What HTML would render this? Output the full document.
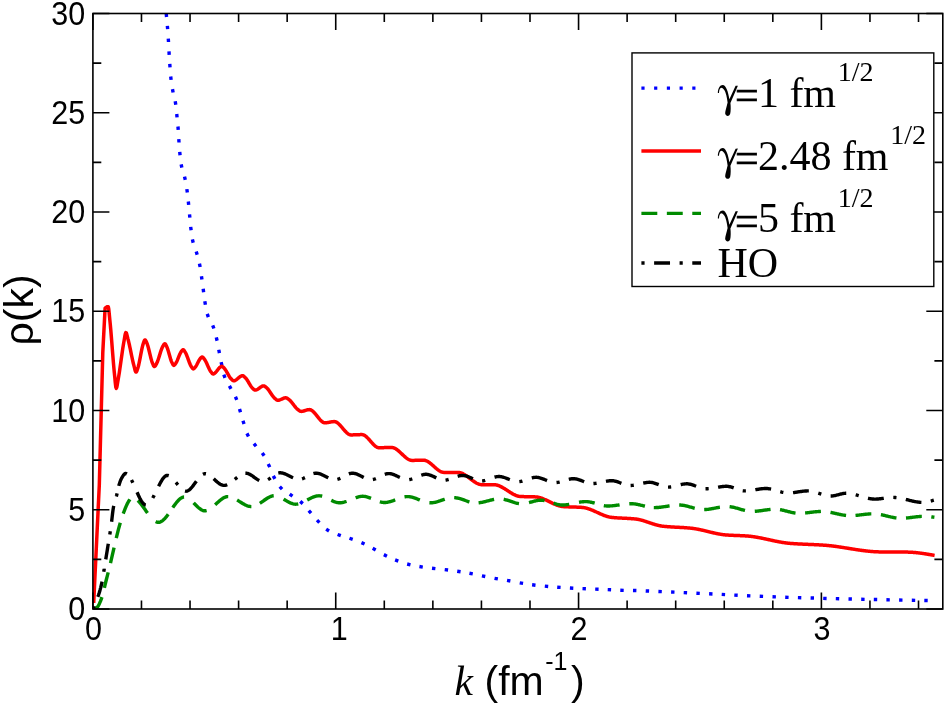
<!DOCTYPE html>
<html><head><meta charset="utf-8"><title>chart</title><style>html,body{margin:0;padding:0;background:#fff}body{width:946px;height:706px;overflow:hidden}#w{will-change:transform;width:946px;height:706px}</style></head><body><div id="w"><svg width="946" height="706" viewBox="0 0 946 706" style="display:block">
<rect x="0" y="0" width="946" height="706" fill="#fff"/>
<defs><clipPath id="cp"><rect x="92.9" y="13.5" width="849.9" height="595.5"/></clipPath>
</defs>
<g clip-path="url(#cp)" fill="none" stroke-linejoin="round">
<path d="M166.25,13.61 L166.55,16.99 M167.36,25.81 L167.64,29.19 M168.29,38.60 L168.51,42.00 M169.00,51.40 L169.20,54.80 M169.78,63.90 L170.02,67.30 M170.71,76.51 L171.09,79.89 M172.49,89.13 L173.11,92.47 M175.22,101.32 L175.78,104.68 M176.73,114.01 L177.07,117.39 M177.96,126.51 L178.24,129.89 M178.78,139.10 L179.02,142.50 M179.73,151.91 L180.07,155.29 M181.16,164.33 L181.84,167.67 M184.53,176.54 L185.27,179.86 M186.86,189.12 L187.34,192.48 M188.33,201.51 L188.67,204.89 M189.54,214.31 L189.86,217.69 M190.69,226.91 L191.11,230.29 M192.41,239.45 L193.19,242.75 M196.23,251.57 L197.17,254.83 M199.46,263.63 L200.14,266.97 M201.46,276.22 L201.94,279.58 M203.17,288.82 L203.63,292.18 M204.81,301.33 L205.39,304.67 M207.25,313.89 L208.35,317.11 M212.70,325.31 L213.90,328.49 M216.31,337.45 L217.09,340.75 M218.78,349.73 L219.42,353.07 M221.14,362.14 L221.86,365.46 M223.81,374.60 L224.99,377.80 M229.40,385.90 L231.00,388.90 M235.44,396.73 L236.76,399.87 M239.50,408.97 L240.50,412.23 M242.99,420.78 L244.01,424.02 M246.93,433.39 L248.47,436.41 M253.94,443.57 L256.06,446.23 M262.25,452.99 L264.15,455.81 M268.27,464.06 L269.73,467.14 M273.30,475.90 L274.90,478.90 M279.73,486.67 L282.07,489.13 M289.71,494.22 L292.49,496.18 M300.23,501.37 L302.77,503.63 M308.77,510.63 L311.03,513.17 M317.01,520.18 L319.39,522.62 M326.18,529.17 L329.02,531.03 M337.61,534.51 L340.79,535.69 M349.49,538.25 L352.71,539.35 M361.45,542.61 L364.55,543.99 M372.70,548.29 L375.70,549.91 M383.88,554.63 L386.92,556.17 M395.11,559.89 L398.29,561.11 M407.15,563.98 L410.45,564.82 M419.42,566.53 L422.78,567.07 M432.01,568.20 L435.39,568.60 M444.71,569.59 L448.09,570.01 M457.22,571.24 L460.58,571.76 M469.43,573.28 L472.77,573.92 M481.93,575.87 L485.27,576.53 M494.53,578.30 L497.87,578.90 M507.03,580.40 L510.37,581.00 M519.72,582.81 L523.08,583.39 M532.11,584.79 L535.49,585.21 M544.81,586.14 L548.19,586.46 M557.20,587.18 L560.60,587.42 M569.90,588.01 L573.30,588.19 M582.50,588.63 L585.90,588.77 M595.20,589.13 L598.60,589.27 M607.70,589.63 L611.10,589.77 M620.30,590.25 L623.70,590.35 M633.00,590.45 L636.40,590.55 M645.70,590.93 L649.10,591.07 M658.40,591.53 L661.80,591.67 M671.10,592.03 L674.50,592.17 M683.70,592.62 L687.10,592.78 M696.40,593.22 L699.80,593.38 M709.10,593.82 L712.50,593.98 M721.70,594.41 L725.10,594.59 M734.30,595.11 L737.70,595.29 M747.00,595.73 L750.40,595.87 M759.70,596.23 L763.10,596.37 M772.50,596.73 L775.90,596.87 M785.20,597.24 L788.60,597.36 M797.90,597.65 L801.30,597.75 M810.60,597.95 L814.00,598.05 M823.20,598.35 L826.60,598.45 M835.80,598.66 L839.20,598.74 M848.50,598.96 L851.90,599.04 M861.20,599.27 L864.60,599.33 M873.80,599.47 L877.20,599.53 M886.40,599.76 L889.80,599.84 M899.10,600.07 L902.50,600.13 M911.80,600.27 L915.20,600.33 M924.30,600.47 L927.70,600.53" stroke="#0000ff" stroke-width="3.4"/>
<path d="M93.70,603.00 L99.30,485.00 L102.80,352.40 L105.10,308.20 L105.30,308.00 L105.80,307.55 L106.30,307.19 L106.80,306.92 L107.30,306.73 L107.80,306.63 L108.30,306.69 L108.80,309.43 L109.30,314.46 L109.80,319.70 L110.30,324.70 L110.80,330.26 L111.30,336.23 L111.80,342.47 L112.30,348.82 L112.80,355.15 L113.30,361.30 L113.80,367.12 L114.30,372.47 L114.80,377.39 L115.30,382.79 L115.80,387.15 L116.30,388.46 L116.80,387.13 L117.30,384.55 L117.80,381.49 L118.30,378.68 L118.80,375.80 L119.30,372.66 L119.80,369.33 L120.30,365.86 L120.80,362.29 L121.30,358.71 L121.80,355.14 L122.30,351.67 L122.80,348.34 L123.30,345.20 L123.80,342.32 L124.30,339.51 L124.80,336.45 L125.30,333.87 L125.80,332.54 L126.30,332.92 L126.80,334.36 L127.30,336.36 L127.80,338.41 L128.30,340.27 L128.80,342.31 L129.30,344.49 L129.80,346.80 L130.30,349.18 L130.80,351.62 L131.30,354.06 L131.80,356.48 L132.30,358.84 L132.80,361.10 L133.30,363.23 L133.80,365.19 L134.30,367.09 L134.80,369.18 L135.30,371.01 L135.80,372.09 L136.30,372.02 L136.80,371.07 L137.30,369.66 L137.80,368.15 L138.30,366.51 L138.80,364.50 L139.30,362.20 L139.80,359.69 L140.30,357.06 L140.80,354.40 L141.30,351.80 L141.80,349.32 L142.30,347.07 L142.80,345.13 L143.30,343.56 L143.80,342.04 L144.30,340.69 L144.80,339.88 L145.30,339.94 L145.80,340.66 L146.30,341.77 L146.80,342.97 L147.30,344.21 L147.80,345.75 L148.30,347.52 L148.80,349.46 L149.30,351.52 L149.80,353.62 L150.30,355.71 L150.80,357.73 L151.30,359.61 L151.80,361.30 L152.30,362.72 L152.80,363.91 L153.30,365.10 L153.80,366.09 L154.30,366.58 L154.80,366.43 L155.30,365.84 L155.80,364.99 L156.30,364.06 L156.80,363.13 L157.30,362.01 L157.80,360.71 L158.30,359.27 L158.80,357.73 L159.30,356.13 L159.80,354.50 L160.30,352.89 L160.80,351.33 L161.30,349.86 L161.80,348.53 L162.30,347.37 L162.80,346.42 L163.30,345.49 L163.80,344.61 L164.30,343.96 L164.80,343.70 L165.30,344.02 L165.80,344.81 L166.30,345.82 L166.80,346.82 L167.30,348.02 L167.80,349.45 L168.30,351.06 L168.80,352.77 L169.30,354.55 L169.80,356.33 L170.30,358.04 L170.80,359.65 L171.30,361.08 L171.80,362.28 L172.30,363.28 L172.80,364.29 L173.30,365.08 L173.80,365.40 L174.30,365.18 L174.80,364.64 L175.30,363.94 L175.80,363.24 L176.30,362.43 L176.80,361.45 L177.30,360.35 L177.80,359.16 L178.30,357.92 L178.80,356.68 L179.30,355.46 L179.80,354.30 L180.30,353.24 L180.80,352.33 L181.30,351.58 L181.80,350.87 L182.30,350.22 L182.80,349.78 L183.30,349.74 L183.80,350.12 L184.30,350.78 L184.80,351.57 L185.30,352.35 L185.80,353.25 L186.30,354.32 L186.80,355.53 L187.30,356.83 L187.80,358.19 L188.30,359.58 L188.80,360.96 L189.30,362.30 L189.80,363.57 L190.30,364.72 L190.80,365.73 L191.30,366.56 L191.80,367.35 L192.30,368.11 L192.80,368.68 L193.30,368.90 L193.80,368.72 L194.30,368.27 L194.80,367.70 L195.30,367.14 L195.80,366.45 L196.30,365.63 L196.80,364.72 L197.30,363.75 L197.80,362.75 L198.30,361.76 L198.80,360.81 L199.30,359.93 L199.80,359.16 L200.30,358.53 L200.80,357.97 L201.30,357.43 L201.80,357.07 L202.30,357.03 L202.80,357.32 L203.30,357.83 L203.80,358.46 L204.30,359.10 L204.80,359.78 L205.30,360.59 L205.80,361.51 L206.30,362.52 L206.80,363.59 L207.30,364.71 L207.80,365.84 L208.30,366.96 L208.80,368.06 L209.30,369.10 L209.80,370.06 L210.30,370.92 L210.80,371.65 L211.30,372.28 L211.80,372.92 L212.30,373.50 L212.80,373.89 L213.30,373.99 L213.80,373.82 L214.30,373.49 L214.80,373.11 L215.30,372.71 L215.80,372.22 L216.30,371.64 L216.80,371.01 L217.30,370.35 L217.80,369.68 L218.30,369.03 L218.80,368.42 L219.30,367.87 L219.80,367.42 L220.30,367.04 L220.80,366.66 L221.30,366.38 L221.80,366.31 L222.30,366.48 L222.80,366.84 L223.30,367.32 L223.80,367.83 L224.30,368.34 L224.80,368.92 L225.30,369.60 L225.80,370.35 L226.30,371.17 L226.80,372.03 L227.30,372.92 L227.80,373.82 L228.30,374.72 L228.80,375.59 L229.30,376.43 L229.80,377.21 L230.30,377.92 L230.80,378.54 L231.30,379.07 L231.80,379.58 L232.30,380.08 L232.80,380.50 L233.30,380.75 L233.80,380.79 L234.30,380.71 L234.80,380.55 L235.30,380.32 L235.80,380.03 L236.30,379.70 L236.80,379.32 L237.30,378.92 L237.80,378.50 L238.30,378.08 L238.80,377.66 L239.30,377.25 L239.80,376.87 L240.30,376.53 L240.80,376.23 L241.30,375.99 L241.80,375.81 L242.30,375.72 L242.80,375.72 L243.30,375.91 L243.80,376.27 L244.30,376.72 L244.80,377.20 L245.30,377.67 L245.80,378.20 L246.30,378.83 L246.80,379.52 L247.30,380.27 L247.80,381.06 L248.30,381.89 L248.80,382.73 L249.30,383.58 L249.80,384.41 L250.30,385.22 L250.80,385.99 L251.30,386.71 L251.80,387.36 L252.30,387.93 L252.80,388.41 L253.30,388.89 L253.80,389.36 L254.30,389.76 L254.80,390.03 L255.30,390.10 L255.80,390.04 L256.30,389.91 L256.80,389.71 L257.30,389.46 L257.80,389.16 L258.30,388.83 L258.80,388.48 L259.30,388.11 L259.80,387.74 L260.30,387.38 L260.80,387.03 L261.30,386.72 L261.80,386.44 L262.30,386.20 L262.80,386.03 L263.30,385.93 L263.80,385.90 L264.30,386.03 L264.80,386.30 L265.30,386.66 L265.80,387.09 L266.30,387.52 L266.80,387.94 L267.30,388.42 L267.80,388.98 L268.30,389.59 L268.80,390.25 L269.30,390.95 L269.80,391.68 L270.30,392.42 L270.80,393.18 L271.30,393.93 L271.80,394.67 L272.30,395.39 L272.80,396.09 L273.30,396.74 L273.80,397.34 L274.30,397.88 L274.80,398.35 L275.30,398.77 L275.80,399.20 L276.30,399.62 L276.80,399.97 L277.30,400.21 L277.80,400.30 L278.30,400.27 L278.80,400.19 L279.30,400.07 L279.80,399.91 L280.30,399.72 L280.80,399.51 L281.30,399.28 L281.80,399.05 L282.30,398.82 L282.80,398.59 L283.30,398.38 L283.80,398.19 L284.30,398.03 L284.80,397.91 L285.30,397.83 L285.80,397.80 L286.30,397.87 L286.80,398.07 L287.30,398.36 L287.80,398.71 L288.30,399.09 L288.80,399.46 L289.30,399.83 L289.80,400.27 L290.30,400.76 L290.80,401.29 L291.30,401.87 L291.80,402.47 L292.30,403.10 L292.80,403.75 L293.30,404.40 L293.80,405.06 L294.30,405.71 L294.80,406.35 L295.30,406.97 L295.80,407.57 L296.30,408.13 L296.80,408.64 L297.30,409.11 L297.80,409.52 L298.30,409.89 L298.80,410.26 L299.30,410.63 L299.80,410.96 L300.30,411.22 L300.80,411.37 L301.30,411.40 L301.80,411.36 L302.30,411.30 L302.80,411.20 L303.30,411.09 L303.80,410.95 L304.30,410.80 L304.80,410.65 L305.30,410.48 L305.80,410.32 L306.30,410.17 L306.80,410.02 L307.30,409.89 L307.80,409.77 L308.30,409.69 L308.80,409.63 L309.30,409.60 L309.80,409.63 L310.30,409.73 L310.80,409.90 L311.30,410.14 L311.80,410.44 L312.30,410.80 L312.80,411.21 L313.30,411.66 L313.80,412.16 L314.30,412.69 L314.80,413.25 L315.30,413.84 L315.80,414.44 L316.30,415.06 L316.80,415.69 L317.30,416.33 L317.80,416.96 L318.30,417.59 L318.80,418.20 L319.30,418.80 L319.80,419.38 L320.30,419.93 L320.80,420.44 L321.30,420.92 L321.80,421.36 L322.30,421.75 L322.80,422.09 L323.30,422.36 L323.80,422.58 L324.30,422.72 L324.80,422.79 L325.30,422.80 L325.80,422.77 L326.30,422.74 L326.80,422.68 L327.30,422.62 L327.80,422.54 L328.30,422.45 L328.80,422.36 L329.30,422.27 L329.80,422.17 L330.30,422.08 L330.80,421.98 L331.30,421.89 L331.80,421.81 L332.30,421.74 L332.80,421.68 L333.30,421.64 L333.80,421.61 L334.30,421.60 L334.80,421.64 L335.30,421.74 L335.80,421.90 L336.30,422.13 L336.80,422.40 L337.30,422.73 L337.80,423.11 L338.30,423.52 L338.80,423.98 L339.30,424.46 L339.80,424.98 L340.30,425.52 L340.80,426.08 L341.30,426.65 L341.80,427.24 L342.30,427.83 L342.80,428.43 L343.30,429.02 L343.80,429.62 L344.30,430.20 L344.80,430.76 L345.30,431.31 L345.80,431.83 L346.30,432.33 L346.80,432.80 L347.30,433.23 L347.80,433.62 L348.30,433.97 L348.80,434.27 L349.30,434.51 L349.80,434.70 L350.30,434.83 L350.80,434.89 L351.30,434.90 L351.80,434.90 L352.30,434.89 L352.80,434.88 L353.30,434.87 L353.80,434.85 L354.30,434.84 L354.80,434.82 L355.30,434.80 L355.80,434.78 L356.30,434.76 L356.80,434.74 L357.30,434.72 L357.80,434.70 L358.30,434.68 L358.80,434.66 L359.30,434.65 L359.80,434.63 L360.30,434.62 L360.80,434.61 L361.30,434.60 L361.80,434.60 L362.30,434.61 L362.80,434.68 L363.30,434.82 L363.80,435.01 L364.30,435.25 L364.80,435.55 L365.30,435.89 L365.80,436.27 L366.30,436.69 L366.80,437.14 L367.30,437.63 L367.80,438.13 L368.30,438.66 L368.80,439.21 L369.30,439.77 L369.80,440.34 L370.30,440.92 L370.80,441.50 L371.30,442.07 L371.80,442.64 L372.30,443.20 L372.80,443.74 L373.30,444.27 L373.80,444.77 L374.30,445.25 L374.80,445.70 L375.30,446.11 L375.80,446.48 L376.30,446.81 L376.80,447.10 L377.30,447.33 L377.80,447.51 L378.30,447.64 L378.80,447.69 L379.30,447.70 L379.80,447.70 L380.30,447.69 L380.80,447.69 L381.30,447.68 L381.80,447.68 L382.30,447.67 L382.80,447.66 L383.30,447.65 L383.80,447.64 L384.30,447.62 L384.80,447.61 L385.30,447.60 L385.80,447.59 L386.30,447.58 L386.80,447.57 L387.30,447.56 L387.80,447.54 L388.30,447.54 L388.80,447.53 L389.30,447.52 L389.80,447.51 L390.30,447.51 L390.80,447.50 L391.30,447.50 L391.80,447.50 L392.30,447.53 L392.80,447.61 L393.30,447.73 L393.80,447.89 L394.30,448.08 L394.80,448.31 L395.30,448.57 L395.80,448.87 L396.30,449.19 L396.80,449.53 L397.30,449.90 L397.80,450.29 L398.30,450.70 L398.80,451.13 L399.30,451.57 L399.80,452.02 L400.30,452.48 L400.80,452.95 L401.30,453.43 L401.80,453.90 L402.30,454.38 L402.80,454.85 L403.30,455.32 L403.80,455.79 L404.30,456.24 L404.80,456.68 L405.30,457.11 L405.80,457.53 L406.30,457.92 L406.80,458.29 L407.30,458.65 L407.80,458.97 L408.30,459.27 L408.80,459.54 L409.30,459.78 L409.80,459.98 L410.30,460.14 L410.80,460.27 L411.30,460.36 L411.80,460.40 L412.30,460.40 L412.80,460.40 L413.30,460.39 L413.80,460.39 L414.30,460.38 L414.80,460.37 L415.30,460.36 L415.80,460.35 L416.30,460.34 L416.80,460.33 L417.30,460.31 L417.80,460.30 L418.30,460.29 L418.80,460.27 L419.30,460.26 L419.80,460.25 L420.30,460.24 L420.80,460.23 L421.30,460.22 L421.80,460.21 L422.30,460.21 L422.80,460.20 L423.30,460.20 L423.80,460.20 L424.30,460.24 L424.80,460.32 L425.30,460.44 L425.80,460.60 L426.30,460.78 L426.80,461.01 L427.30,461.26 L427.80,461.54 L428.30,461.84 L428.80,462.17 L429.30,462.53 L429.80,462.90 L430.30,463.28 L430.80,463.69 L431.30,464.10 L431.80,464.53 L432.30,464.96 L432.80,465.41 L433.30,465.85 L433.80,466.30 L434.30,466.75 L434.80,467.19 L435.30,467.64 L435.80,468.07 L436.30,468.50 L436.80,468.91 L437.30,469.32 L437.80,469.70 L438.30,470.07 L438.80,470.43 L439.30,470.76 L439.80,471.06 L440.30,471.34 L440.80,471.59 L441.30,471.82 L441.80,472.00 L442.30,472.16 L442.80,472.28 L443.30,472.36 L443.80,472.40 L444.30,472.40 L444.80,472.40 L445.30,472.40 L445.80,472.40 L446.30,472.40 L446.80,472.40 L447.30,472.40 L447.80,472.40 L448.30,472.40 L448.80,472.40 L449.30,472.40 L449.80,472.40 L450.30,472.40 L450.80,472.40 L451.30,472.40 L451.80,472.40 L452.30,472.40 L452.80,472.40 L453.30,472.40 L453.80,472.40 L454.30,472.40 L454.80,472.40 L455.30,472.40 L455.80,472.40 L456.30,472.40 L456.80,472.40 L457.30,472.40 L457.80,472.40 L458.30,472.41 L458.80,472.44 L459.30,472.50 L459.80,472.60 L460.30,472.72 L460.80,472.86 L461.30,473.03 L461.80,473.23 L462.30,473.44 L462.80,473.68 L463.30,473.93 L463.80,474.21 L464.30,474.50 L464.80,474.80 L465.30,475.12 L465.80,475.45 L466.30,475.80 L466.80,476.15 L467.30,476.51 L467.80,476.88 L468.30,477.25 L468.80,477.63 L469.30,478.01 L469.80,478.40 L470.30,478.78 L470.80,479.16 L471.30,479.55 L471.80,479.92 L472.30,480.30 L472.80,480.66 L473.30,481.02 L473.80,481.37 L474.30,481.71 L474.80,482.04 L475.30,482.36 L475.80,482.66 L476.30,482.95 L476.80,483.22 L477.30,483.47 L477.80,483.70 L478.30,483.91 L478.80,484.10 L479.30,484.27 L479.80,484.41 L480.30,484.52 L480.80,484.61 L481.30,484.67 L481.80,484.70 L482.30,484.70 L482.80,484.70 L483.30,484.70 L483.80,484.70 L484.30,484.70 L484.80,484.70 L485.30,484.70 L485.80,484.70 L486.30,484.70 L486.80,484.70 L487.30,484.70 L487.80,484.70 L488.30,484.70 L488.80,484.70 L489.30,484.70 L489.80,484.70 L490.30,484.70 L490.80,484.70 L491.30,484.70 L491.80,484.70 L492.30,484.70 L492.80,484.70 L493.30,484.70 L493.80,484.70 L494.30,484.70 L494.80,484.73 L495.30,484.78 L495.80,484.85 L496.30,484.94 L496.80,485.06 L497.30,485.19 L497.80,485.34 L498.30,485.50 L498.80,485.69 L499.30,485.89 L499.80,486.10 L500.30,486.33 L500.80,486.57 L501.30,486.83 L501.80,487.09 L502.30,487.36 L502.80,487.65 L503.30,487.94 L503.80,488.24 L504.30,488.55 L504.80,488.86 L505.30,489.18 L505.80,489.50 L506.30,489.82 L506.80,490.15 L507.30,490.48 L507.80,490.81 L508.30,491.13 L508.80,491.46 L509.30,491.78 L509.80,492.11 L510.30,492.42 L510.80,492.73 L511.30,493.04 L511.80,493.34 L512.30,493.63 L512.80,493.91 L513.30,494.18 L513.80,494.44 L514.30,494.70 L514.80,494.93 L515.30,495.16 L515.80,495.37 L516.30,495.57 L516.80,495.75 L517.30,495.91 L517.80,496.06 L518.30,496.18 L518.80,496.29 L519.30,496.38 L519.80,496.44 L520.30,496.49 L520.80,496.51 L521.30,496.53 L521.80,496.55 L522.30,496.57 L522.80,496.59 L523.30,496.60 L523.80,496.62 L524.30,496.63 L524.80,496.64 L525.30,496.65 L525.80,496.66 L526.30,496.67 L526.80,496.68 L527.30,496.69 L527.80,496.70 L528.30,496.71 L528.80,496.72 L529.30,496.72 L529.80,496.73 L530.30,496.74 L530.80,496.75 L531.30,496.76 L531.80,496.78 L532.30,496.79 L532.80,496.80 L533.30,496.82 L533.80,496.83 L534.30,496.85 L534.80,496.87 L535.30,496.89 L535.80,496.92 L536.30,496.96 L536.80,497.01 L537.30,497.08 L537.80,497.17 L538.30,497.26 L538.80,497.37 L539.30,497.49 L539.80,497.63 L540.30,497.77 L540.80,497.93 L541.30,498.09 L541.80,498.27 L542.30,498.45 L542.80,498.64 L543.30,498.84 L543.80,499.05 L544.30,499.26 L544.80,499.48 L545.30,499.71 L545.80,499.94 L546.30,500.17 L546.80,500.41 L547.30,500.65 L547.80,500.89 L548.30,501.14 L548.80,501.39 L549.30,501.63 L549.80,501.88 L550.30,502.13 L550.80,502.38 L551.30,502.62 L551.80,502.86 L552.30,503.11 L552.80,503.34 L553.30,503.58 L553.80,503.81 L554.30,504.03 L554.80,504.25 L555.30,504.46 L555.80,504.67 L556.30,504.87 L556.80,505.06 L557.30,505.25 L557.80,505.42 L558.30,505.59 L558.80,505.75 L559.30,505.89 L559.80,506.03 L560.30,506.15 L560.80,506.26 L561.30,506.36 L561.80,506.44 L562.30,506.51 L562.80,506.57 L563.30,506.61 L563.80,506.64 L564.30,506.67 L564.80,506.70 L565.30,506.73 L565.80,506.76 L566.30,506.78 L566.80,506.81 L567.30,506.83 L567.80,506.85 L568.30,506.87 L568.80,506.89 L569.30,506.90 L569.80,506.92 L570.30,506.94 L570.80,506.95 L571.30,506.97 L571.80,506.98 L572.30,506.99 L572.80,507.01 L573.30,507.02 L573.80,507.04 L574.30,507.05 L574.80,507.07 L575.30,507.08 L575.80,507.10 L576.30,507.11 L576.80,507.13 L577.30,507.15 L577.80,507.17 L578.30,507.19 L578.80,507.21 L579.30,507.24 L579.80,507.26 L580.30,507.29 L580.80,507.32 L581.30,507.35 L581.80,507.39 L582.30,507.42 L582.80,507.47 L583.30,507.53 L583.80,507.61 L584.30,507.69 L584.80,507.79 L585.30,507.89 L585.80,508.01 L586.30,508.13 L586.80,508.27 L587.30,508.41 L587.80,508.56 L588.30,508.72 L588.80,508.89 L589.30,509.06 L589.80,509.24 L590.30,509.43 L590.80,509.62 L591.30,509.82 L591.80,510.02 L592.30,510.23 L592.80,510.44 L593.30,510.66 L593.80,510.88 L594.30,511.10 L594.80,511.32 L595.30,511.55 L595.80,511.78 L596.30,512.01 L596.80,512.24 L597.30,512.47 L597.80,512.70 L598.30,512.93 L598.80,513.15 L599.30,513.38 L599.80,513.61 L600.30,513.83 L600.80,514.05 L601.30,514.27 L601.80,514.48 L602.30,514.69 L602.80,514.90 L603.30,515.10 L603.80,515.30 L604.30,515.49 L604.80,515.67 L605.30,515.85 L605.80,516.03 L606.30,516.19 L606.80,516.35 L607.30,516.50 L607.80,516.64 L608.30,516.77 L608.80,516.89 L609.30,517.01 L609.80,517.11 L610.30,517.20 L610.80,517.28 L611.30,517.35 L611.80,517.41 L612.30,517.46 L612.80,517.51 L613.30,517.56 L613.80,517.61 L614.30,517.65 L614.80,517.69 L615.30,517.73 L615.80,517.77 L616.30,517.81 L616.80,517.84 L617.30,517.88 L617.80,517.91 L618.30,517.94 L618.80,517.97 L619.30,518.00 L619.80,518.02 L620.30,518.05 L620.80,518.08 L621.30,518.10 L621.80,518.12 L622.30,518.15 L622.80,518.17 L623.30,518.20 L623.80,518.22 L624.30,518.24 L624.80,518.27 L625.30,518.29 L625.80,518.32 L626.30,518.34 L626.80,518.37 L627.30,518.39 L627.80,518.42 L628.30,518.44 L628.80,518.47 L629.30,518.50 L629.80,518.53 L630.30,518.57 L630.80,518.60 L631.30,518.63 L631.80,518.67 L632.30,518.71 L632.80,518.75 L633.30,518.79 L633.80,518.83 L634.30,518.88 L634.80,518.93 L635.30,518.98 L635.80,519.03 L636.30,519.10 L636.80,519.17 L637.30,519.24 L637.80,519.33 L638.30,519.42 L638.80,519.52 L639.30,519.63 L639.80,519.74 L640.30,519.86 L640.80,519.98 L641.30,520.11 L641.80,520.25 L642.30,520.39 L642.80,520.53 L643.30,520.68 L643.80,520.83 L644.30,520.98 L644.80,521.14 L645.30,521.30 L645.80,521.46 L646.30,521.63 L646.80,521.80 L647.30,521.97 L647.80,522.13 L648.30,522.31 L648.80,522.48 L649.30,522.65 L649.80,522.82 L650.30,522.99 L650.80,523.16 L651.30,523.33 L651.80,523.50 L652.30,523.66 L652.80,523.83 L653.30,523.99 L653.80,524.15 L654.30,524.30 L654.80,524.46 L655.30,524.61 L655.80,524.75 L656.30,524.89 L656.80,525.03 L657.30,525.16 L657.80,525.29 L658.30,525.41 L658.80,525.53 L659.30,525.64 L659.80,525.74 L660.30,525.84 L660.80,525.93 L661.30,526.01 L661.80,526.09 L662.30,526.15 L662.80,526.21 L663.30,526.27 L663.80,526.32 L664.30,526.37 L664.80,526.42 L665.30,526.47 L665.80,526.51 L666.30,526.56 L666.80,526.60 L667.30,526.64 L667.80,526.68 L668.30,526.72 L668.80,526.75 L669.30,526.79 L669.80,526.83 L670.30,526.86 L670.80,526.89 L671.30,526.92 L671.80,526.95 L672.30,526.99 L672.80,527.01 L673.30,527.04 L673.80,527.07 L674.30,527.10 L674.80,527.13 L675.30,527.15 L675.80,527.18 L676.30,527.21 L676.80,527.23 L677.30,527.26 L677.80,527.29 L678.30,527.31 L678.80,527.34 L679.30,527.37 L679.80,527.39 L680.30,527.42 L680.80,527.45 L681.30,527.48 L681.80,527.50 L682.30,527.53 L682.80,527.56 L683.30,527.59 L683.80,527.62 L684.30,527.66 L684.80,527.69 L685.30,527.72 L685.80,527.76 L686.30,527.79 L686.80,527.83 L687.30,527.87 L687.80,527.91 L688.30,527.95 L688.80,527.99 L689.30,528.04 L689.80,528.08 L690.30,528.13 L690.80,528.18 L691.30,528.23 L691.80,528.29 L692.30,528.35 L692.80,528.41 L693.30,528.48 L693.80,528.55 L694.30,528.62 L694.80,528.70 L695.30,528.78 L695.80,528.86 L696.30,528.95 L696.80,529.04 L697.30,529.13 L697.80,529.23 L698.30,529.32 L698.80,529.42 L699.30,529.53 L699.80,529.63 L700.30,529.74 L700.80,529.85 L701.30,529.96 L701.80,530.07 L702.30,530.18 L702.80,530.29 L703.30,530.41 L703.80,530.53 L704.30,530.65 L704.80,530.76 L705.30,530.88 L705.80,531.01 L706.30,531.13 L706.80,531.25 L707.30,531.37 L707.80,531.49 L708.30,531.61 L708.80,531.73 L709.30,531.86 L709.80,531.98 L710.30,532.10 L710.80,532.22 L711.30,532.34 L711.80,532.46 L712.30,532.57 L712.80,532.69 L713.30,532.81 L713.80,532.92 L714.30,533.03 L714.80,533.15 L715.30,533.25 L715.80,533.36 L716.30,533.47 L716.80,533.57 L717.30,533.67 L717.80,533.77 L718.30,533.87 L718.80,533.96 L719.30,534.05 L719.80,534.14 L720.30,534.23 L720.80,534.31 L721.30,534.39 L721.80,534.47 L722.30,534.54 L722.80,534.61 L723.30,534.68 L723.80,534.74 L724.30,534.79 L724.80,534.85 L725.30,534.90 L725.80,534.94 L726.30,534.98 L726.80,535.02 L727.30,535.06 L727.80,535.09 L728.30,535.12 L728.80,535.15 L729.30,535.18 L729.80,535.21 L730.30,535.24 L730.80,535.26 L731.30,535.29 L731.80,535.31 L732.30,535.33 L732.80,535.35 L733.30,535.37 L733.80,535.39 L734.30,535.41 L734.80,535.43 L735.30,535.45 L735.80,535.47 L736.30,535.49 L736.80,535.51 L737.30,535.53 L737.80,535.55 L738.30,535.56 L738.80,535.58 L739.30,535.60 L739.80,535.62 L740.30,535.64 L740.80,535.66 L741.30,535.68 L741.80,535.71 L742.30,535.73 L742.80,535.75 L743.30,535.78 L743.80,535.80 L744.30,535.83 L744.80,535.86 L745.30,535.89 L745.80,535.92 L746.30,535.95 L746.80,535.99 L747.30,536.02 L747.80,536.06 L748.30,536.10 L748.80,536.15 L749.30,536.20 L749.80,536.25 L750.30,536.30 L750.80,536.36 L751.30,536.42 L751.80,536.49 L752.30,536.55 L752.80,536.62 L753.30,536.69 L753.80,536.76 L754.30,536.84 L754.80,536.92 L755.30,537.00 L755.80,537.08 L756.30,537.16 L756.80,537.25 L757.30,537.34 L757.80,537.42 L758.30,537.52 L758.80,537.61 L759.30,537.70 L759.80,537.80 L760.30,537.90 L760.80,537.99 L761.30,538.09 L761.80,538.20 L762.30,538.30 L762.80,538.40 L763.30,538.50 L763.80,538.61 L764.30,538.72 L764.80,538.82 L765.30,538.93 L765.80,539.04 L766.30,539.14 L766.80,539.25 L767.30,539.36 L767.80,539.47 L768.30,539.58 L768.80,539.69 L769.30,539.80 L769.80,539.91 L770.30,540.02 L770.80,540.13 L771.30,540.24 L771.80,540.34 L772.30,540.45 L772.80,540.56 L773.30,540.67 L773.80,540.77 L774.30,540.88 L774.80,540.98 L775.30,541.09 L775.80,541.19 L776.30,541.29 L776.80,541.39 L777.30,541.49 L777.80,541.59 L778.30,541.68 L778.80,541.78 L779.30,541.87 L779.80,541.97 L780.30,542.06 L780.80,542.15 L781.30,542.23 L781.80,542.32 L782.30,542.40 L782.80,542.48 L783.30,542.56 L783.80,542.64 L784.30,542.71 L784.80,542.78 L785.30,542.85 L785.80,542.92 L786.30,542.99 L786.80,543.05 L787.30,543.11 L787.80,543.16 L788.30,543.22 L788.80,543.27 L789.30,543.31 L789.80,543.36 L790.30,543.40 L790.80,543.44 L791.30,543.48 L791.80,543.51 L792.30,543.55 L792.80,543.59 L793.30,543.62 L793.80,543.65 L794.30,543.69 L794.80,543.72 L795.30,543.75 L795.80,543.78 L796.30,543.81 L796.80,543.84 L797.30,543.87 L797.80,543.89 L798.30,543.92 L798.80,543.95 L799.30,543.97 L799.80,544.00 L800.30,544.02 L800.80,544.05 L801.30,544.07 L801.80,544.09 L802.30,544.12 L802.80,544.14 L803.30,544.16 L803.80,544.18 L804.30,544.21 L804.80,544.23 L805.30,544.25 L805.80,544.27 L806.30,544.29 L806.80,544.31 L807.30,544.33 L807.80,544.35 L808.30,544.38 L808.80,544.40 L809.30,544.42 L809.80,544.44 L810.30,544.46 L810.80,544.48 L811.30,544.50 L811.80,544.52 L812.30,544.54 L812.80,544.57 L813.30,544.59 L813.80,544.61 L814.30,544.63 L814.80,544.66 L815.30,544.68 L815.80,544.70 L816.30,544.73 L816.80,544.75 L817.30,544.78 L817.80,544.80 L818.30,544.83 L818.80,544.86 L819.30,544.89 L819.80,544.91 L820.30,544.94 L820.80,544.97 L821.30,545.00 L821.80,545.03 L822.30,545.06 L822.80,545.10 L823.30,545.13 L823.80,545.16 L824.30,545.20 L824.80,545.24 L825.30,545.27 L825.80,545.32 L826.30,545.36 L826.80,545.40 L827.30,545.45 L827.80,545.49 L828.30,545.54 L828.80,545.59 L829.30,545.64 L829.80,545.70 L830.30,545.75 L830.80,545.81 L831.30,545.86 L831.80,545.92 L832.30,545.98 L832.80,546.04 L833.30,546.10 L833.80,546.17 L834.30,546.23 L834.80,546.30 L835.30,546.36 L835.80,546.43 L836.30,546.50 L836.80,546.57 L837.30,546.64 L837.80,546.71 L838.30,546.78 L838.80,546.86 L839.30,546.93 L839.80,547.00 L840.30,547.08 L840.80,547.15 L841.30,547.23 L841.80,547.31 L842.30,547.38 L842.80,547.46 L843.30,547.54 L843.80,547.62 L844.30,547.70 L844.80,547.78 L845.30,547.86 L845.80,547.94 L846.30,548.02 L846.80,548.10 L847.30,548.18 L847.80,548.26 L848.30,548.34 L848.80,548.42 L849.30,548.50 L849.80,548.58 L850.30,548.66 L850.80,548.74 L851.30,548.82 L851.80,548.90 L852.30,548.98 L852.80,549.06 L853.30,549.14 L853.80,549.22 L854.30,549.30 L854.80,549.38 L855.30,549.45 L855.80,549.53 L856.30,549.61 L856.80,549.68 L857.30,549.76 L857.80,549.83 L858.30,549.91 L858.80,549.98 L859.30,550.05 L859.80,550.12 L860.30,550.20 L860.80,550.27 L861.30,550.33 L861.80,550.40 L862.30,550.47 L862.80,550.54 L863.30,550.60 L863.80,550.66 L864.30,550.73 L864.80,550.79 L865.30,550.85 L865.80,550.91 L866.30,550.97 L866.80,551.02 L867.30,551.08 L867.80,551.13 L868.30,551.18 L868.80,551.23 L869.30,551.28 L869.80,551.33 L870.30,551.38 L870.80,551.42 L871.30,551.46 L871.80,551.51 L872.30,551.54 L872.80,551.58 L873.30,551.62 L873.80,551.65 L874.30,551.68 L874.80,551.71 L875.30,551.74 L875.80,551.77 L876.30,551.79 L876.80,551.81 L877.30,551.83 L877.80,551.85 L878.30,551.87 L878.80,551.88 L879.30,551.89 L879.80,551.90 L880.30,551.90 L880.80,551.91 L881.30,551.92 L881.80,551.92 L882.30,551.93 L882.80,551.93 L883.30,551.94 L883.80,551.94 L884.30,551.94 L884.80,551.95 L885.30,551.95 L885.80,551.96 L886.30,551.96 L886.80,551.96 L887.30,551.97 L887.80,551.97 L888.30,551.97 L888.80,551.97 L889.30,551.98 L889.80,551.98 L890.30,551.98 L890.80,551.98 L891.30,551.99 L891.80,551.99 L892.30,551.99 L892.80,551.99 L893.30,551.99 L893.80,552.00 L894.30,552.00 L894.80,552.00 L895.30,552.00 L895.80,552.01 L896.30,552.01 L896.80,552.01 L897.30,552.01 L897.80,552.02 L898.30,552.02 L898.80,552.02 L899.30,552.03 L899.80,552.03 L900.30,552.03 L900.80,552.04 L901.30,552.04 L901.80,552.04 L902.30,552.05 L902.80,552.05 L903.30,552.06 L903.80,552.06 L904.30,552.07 L904.80,552.07 L905.30,552.08 L905.80,552.08 L906.30,552.09 L906.80,552.10 L907.30,552.10 L907.80,552.11 L908.30,552.13 L908.80,552.14 L909.30,552.16 L909.80,552.18 L910.30,552.20 L910.80,552.23 L911.30,552.26 L911.80,552.29 L912.30,552.32 L912.80,552.36 L913.30,552.39 L913.80,552.43 L914.30,552.48 L914.80,552.52 L915.30,552.56 L915.80,552.61 L916.30,552.66 L916.80,552.71 L917.30,552.77 L917.80,552.82 L918.30,552.88 L918.80,552.94 L919.30,553.00 L919.80,553.06 L920.30,553.12 L920.80,553.19 L921.30,553.26 L921.80,553.32 L922.30,553.39 L922.80,553.46 L923.30,553.54 L923.80,553.61 L924.30,553.68 L924.80,553.76 L925.30,553.84 L925.80,553.91 L926.30,553.99 L926.80,554.07 L927.30,554.15 L927.80,554.23 L928.30,554.32 L928.80,554.40 L929.30,554.48 L929.80,554.57 L930.30,554.65 L930.80,554.74 L931.30,554.82 L931.80,554.91 L932.30,555.00 L932.80,555.08 L933.30,555.17 L933.80,555.26 L934.30,555.35 L934.60,555.40" stroke="#ff0000" stroke-width="3.5"/>
<path d="M93.00,609.00 L93.75,608.93 L94.50,608.74 L95.25,608.49 L96.00,608.16 L96.75,607.63 L97.50,606.93 L98.25,605.98 L99.00,604.56 L99.75,602.88 L100.50,601.10 L101.25,599.10 L101.92,597.12 M104.38,587.83 L105.00,585.14 L105.75,582.00 L106.50,579.01 L107.25,576.06 L108.00,573.12 L108.18,572.39 M110.50,563.06 L111.00,560.93 L111.75,557.68 L112.50,554.39 L113.25,551.10 L114.00,547.85 L114.07,547.57 M116.26,538.21 L117.00,535.10 L117.75,532.03 L118.50,529.12 L119.25,526.42 L120.00,523.82 L120.29,522.83 M123.23,513.68 L123.75,512.25 L124.50,510.30 L125.25,508.43 L126.00,506.62 L126.75,504.91 L127.50,503.33 L128.25,501.93 L129.00,500.75 L129.75,499.60 L129.94,499.31 M137.80,500.46 L138.50,501.16 L139.25,501.97 L140.00,502.84 L140.75,503.75 L141.50,504.71 L142.25,505.69 L143.00,506.71 L143.75,507.74 L144.50,508.79 L145.25,509.85 L146.00,510.91 L146.75,511.96 L147.50,512.99 L147.52,513.02 M155.70,521.52 L156.25,521.79 L157.00,522.07 L157.75,522.24 L158.50,522.30 L159.25,522.24 L160.00,522.05 L160.75,521.76 L161.50,521.35 L162.25,520.85 L163.00,520.26 L163.75,519.58 L164.50,518.83 L165.25,518.01 L166.00,517.13 L166.75,516.19 L167.50,515.21 L168.18,514.29 M172.80,507.60 L173.50,506.59 L174.25,505.53 L175.00,504.49 L175.75,503.49 L176.50,502.54 L177.25,501.63 L178.00,500.79 L178.75,500.01 L179.50,499.30 L180.25,498.67 L181.00,498.14 L181.75,497.69 L182.50,497.35 L183.25,497.12 L184.00,497.01 L184.07,497.01 M193.60,502.90 L194.25,503.55 L195.00,504.30 L195.75,505.05 L196.50,505.79 L197.25,506.50 L198.00,507.19 L198.75,507.84 L199.50,508.45 L200.25,509.01 L201.00,509.50 L201.75,509.93 L202.50,510.28 L203.25,510.55 L204.00,510.72 L204.75,510.80 L205.50,510.77 L206.25,510.66 L206.67,510.56 M215.10,504.86 L215.75,504.26 L216.50,503.56 L217.25,502.86 L218.00,502.18 L218.75,501.50 L219.50,500.84 L220.25,500.21 L221.00,499.61 L221.75,499.05 L222.50,498.53 L223.25,498.06 L224.00,497.64 L224.75,497.29 L225.50,497.00 L226.25,496.79 L227.00,496.65 L227.75,496.60 L228.23,496.61 M237.10,500.01 L237.75,500.41 L238.50,500.87 L239.25,501.35 L240.00,501.82 L240.75,502.29 L241.50,502.76 L242.25,503.22 L243.00,503.66 L243.75,504.09 L244.50,504.50 L245.25,504.88 L246.00,505.23 L246.75,505.56 L247.50,505.84 L248.25,506.09 L249.00,506.29 L249.75,506.44 L250.50,506.55 L251.25,506.60 L251.36,506.60 M259.90,503.30 L260.50,502.90 L261.25,502.38 L262.00,501.86 L262.75,501.33 L263.50,500.79 L264.25,500.26 L265.00,499.74 L265.75,499.23 L266.50,498.74 L267.25,498.27 L268.00,497.82 L268.75,497.40 L269.50,497.02 L270.25,496.68 L271.00,496.38 L271.75,496.13 L272.50,495.93 L273.25,495.79 L273.70,495.74 M283.60,499.11 L284.25,499.50 L285.00,499.95 L285.75,500.40 L286.50,500.85 L287.25,501.30 L288.00,501.72 L288.75,502.13 L289.50,502.51 L290.25,502.87 L291.00,503.20 L291.75,503.48 L292.50,503.73 L293.25,503.93 L294.00,504.08 L294.75,504.17 L295.50,504.20 L296.25,504.17 L297.00,504.10 L297.75,503.98 L298.27,503.88 M307.20,500.03 L307.75,499.73 L308.50,499.33 L309.25,498.94 L310.00,498.55 L310.75,498.18 L311.50,497.82 L312.25,497.48 L313.00,497.16 L313.75,496.87 L314.50,496.61 L315.25,496.37 L316.00,496.18 L316.75,496.02 L317.50,495.90 L318.25,495.83 L319.00,495.80 L319.75,495.83 L320.50,495.91 L321.25,496.03 L322.00,496.20 L322.20,496.25 M331.30,500.31 L332.00,500.64 L332.75,500.99 L333.50,501.32 L334.25,501.63 L335.00,501.91 L335.75,502.16 L336.50,502.37 L337.25,502.55 L338.00,502.68 L338.75,502.77 L339.50,502.80 L340.25,502.78 L341.00,502.73 L341.75,502.64 L342.50,502.52 L343.25,502.36 L344.00,502.18 L344.75,501.97 L345.50,501.74 L346.25,501.49 L346.58,501.38 M355.60,497.76 L356.25,497.54 L357.00,497.29 L357.75,497.07 L358.50,496.87 L359.25,496.69 L360.00,496.55 L360.75,496.43 L361.50,496.35 L362.25,496.31 L363.00,496.30 L363.75,496.34 L364.50,496.42 L365.25,496.54 L366.00,496.69 L366.75,496.87 L367.50,497.08 L368.25,497.31 L369.00,497.56 L369.75,497.84 L370.50,498.13 L371.02,498.33 M379.80,501.78 L380.50,501.97 L381.25,502.15 L382.00,502.29 L382.75,502.40 L383.50,502.47 L384.25,502.50 L385.00,502.49 L385.75,502.44 L386.50,502.36 L387.25,502.25 L388.00,502.11 L388.75,501.95 L389.50,501.76 L390.25,501.56 L391.00,501.33 L391.75,501.09 L392.50,500.83 L393.25,500.57 L394.00,500.29 L394.75,500.01 L395.24,499.82 M404.50,496.87 L405.25,496.76 L406.00,496.67 L406.75,496.62 L407.50,496.60 L408.25,496.62 L409.00,496.68 L409.75,496.77 L410.50,496.89 L411.25,497.04 L412.00,497.22 L412.75,497.42 L413.50,497.65 L414.25,497.89 L415.00,498.15 L415.75,498.42 L416.50,498.71 L417.25,499.00 L418.00,499.30 L418.75,499.60 L419.50,499.90 L419.83,500.04 M429.40,502.76 L430.00,502.79 L430.75,502.80 L431.50,502.77 L432.25,502.71 L433.00,502.63 L433.75,502.52 L434.50,502.38 L435.25,502.23 L436.00,502.05 L436.75,501.86 L437.50,501.65 L438.25,501.43 L439.00,501.19 L439.75,500.95 L440.50,500.71 L441.25,500.45 L442.00,500.20 L442.75,499.95 L443.50,499.69 L444.25,499.45 L444.80,499.27 M454.20,497.62 L454.75,497.65 L455.50,497.72 L456.25,497.82 L457.00,497.95 L457.75,498.11 L458.50,498.28 L459.25,498.48 L460.00,498.69 L460.75,498.92 L461.50,499.16 L462.25,499.41 L463.00,499.68 L463.75,499.94 L464.50,500.21 L465.25,500.48 L466.00,500.75 L466.75,501.01 L467.50,501.27 L468.25,501.52 L469.00,501.76 L469.46,501.90 M478.60,502.86 L479.25,502.78 L480.00,502.68 L480.75,502.55 L481.50,502.42 L482.25,502.27 L483.00,502.10 L483.75,501.93 L484.50,501.75 L485.25,501.56 L486.00,501.37 L486.75,501.17 L487.50,500.97 L488.25,500.77 L489.00,500.57 L489.75,500.37 L490.50,500.18 L491.25,499.99 L492.00,499.81 L492.75,499.64 L493.50,499.48 L494.10,499.36 M503.70,499.28 L504.25,499.40 L505.00,499.58 L505.75,499.78 L506.50,500.00 L507.25,500.22 L508.00,500.46 L508.75,500.71 L509.50,500.96 L510.25,501.21 L511.00,501.47 L511.75,501.72 L512.50,501.97 L513.25,502.22 L514.00,502.45 L514.75,502.68 L515.50,502.89 L516.25,503.08 L517.00,503.26 L517.75,503.41 L518.50,503.55 L518.98,503.62 M529.00,502.61 L529.75,502.41 L530.50,502.21 L531.25,502.00 L532.00,501.79 L532.75,501.59 L533.50,501.39 L534.25,501.20 L535.00,501.01 L535.75,500.84 L536.50,500.69 L537.25,500.55 L538.00,500.43 L538.75,500.33 L539.50,500.26 L540.25,500.22 L541.00,500.20 L541.75,500.22 L542.50,500.27 L543.25,500.35 L544.00,500.45 L544.60,500.56 M553.60,503.21 L554.25,503.42 L555.00,503.66 L555.75,503.88 L556.50,504.09 L557.25,504.28 L558.00,504.46 L558.75,504.61 L559.50,504.75 L560.25,504.85 L561.00,504.93 L561.75,504.98 L562.50,505.00 L563.25,504.99 L564.00,504.96 L564.75,504.91 L565.50,504.84 L566.25,504.76 L567.00,504.67 L567.75,504.56 L568.50,504.44 L569.24,504.31 M579.00,502.29 L579.75,502.16 L580.50,502.04 L581.25,501.93 L582.00,501.83 L582.75,501.75 L583.50,501.69 L584.25,501.64 L585.00,501.61 L585.75,501.60 L586.50,501.62 L587.25,501.66 L588.00,501.73 L588.75,501.82 L589.50,501.94 L590.25,502.07 L591.00,502.23 L591.75,502.40 L592.50,502.58 L593.25,502.77 L594.00,502.97 L594.69,503.17 M603.80,505.59 L604.50,505.71 L605.25,505.82 L606.00,505.90 L606.75,505.96 L607.50,505.99 L608.25,506.00 L609.00,505.99 L609.75,505.96 L610.50,505.92 L611.25,505.88 L612.00,505.82 L612.75,505.75 L613.50,505.67 L614.25,505.58 L615.00,505.49 L615.75,505.39 L616.50,505.29 L617.25,505.18 L618.00,505.07 L618.75,504.96 L619.50,504.85 L619.60,504.83 M629.30,503.74 L630.00,503.71 L630.75,503.70 L631.50,503.71 L632.25,503.73 L633.00,503.78 L633.75,503.85 L634.50,503.93 L635.25,504.04 L636.00,504.15 L636.75,504.29 L637.50,504.43 L638.25,504.58 L639.00,504.75 L639.75,504.92 L640.50,505.10 L641.25,505.28 L642.00,505.46 L642.75,505.65 L643.50,505.84 L644.25,506.02 L644.94,506.19 M653.80,507.59 L654.50,507.60 L655.25,507.59 L656.00,507.57 L656.75,507.54 L657.50,507.49 L658.25,507.44 L659.00,507.37 L659.75,507.29 L660.50,507.21 L661.25,507.12 L662.00,507.02 L662.75,506.91 L663.50,506.81 L664.25,506.69 L665.00,506.58 L665.75,506.46 L666.50,506.34 L667.25,506.22 L668.00,506.10 L668.75,505.98 L669.50,505.87 L669.58,505.86 M679.20,505.00 L679.75,505.01 L680.50,505.05 L681.25,505.11 L682.00,505.19 L682.75,505.29 L683.50,505.41 L684.25,505.54 L685.00,505.69 L685.75,505.86 L686.50,506.03 L687.25,506.21 L688.00,506.41 L688.75,506.61 L689.50,506.81 L690.25,507.02 L691.00,507.23 L691.75,507.44 L692.50,507.65 L693.25,507.86 L694.00,508.06 L694.72,508.25 M704.20,509.59 L704.75,509.57 L705.50,509.54 L706.25,509.48 L707.00,509.41 L707.75,509.33 L708.50,509.24 L709.25,509.13 L710.00,509.02 L710.75,508.90 L711.50,508.77 L712.25,508.63 L713.00,508.49 L713.75,508.35 L714.50,508.20 L715.25,508.05 L716.00,507.90 L716.75,507.75 L717.50,507.61 L718.25,507.47 L719.00,507.33 L719.75,507.20 L719.90,507.18 M729.60,506.65 L730.25,506.73 L731.00,506.84 L731.75,506.96 L732.50,507.11 L733.25,507.27 L734.00,507.44 L734.75,507.62 L735.50,507.81 L736.25,508.02 L737.00,508.22 L737.75,508.44 L738.50,508.66 L739.25,508.88 L740.00,509.10 L740.75,509.32 L741.50,509.53 L742.25,509.75 L743.00,509.95 L743.75,510.15 L744.50,510.34 L745.02,510.47 M754.80,511.31 L755.50,511.26 L756.25,511.20 L757.00,511.13 L757.75,511.06 L758.50,510.97 L759.25,510.88 L760.00,510.79 L760.75,510.69 L761.50,510.58 L762.25,510.48 L763.00,510.37 L763.75,510.26 L764.50,510.16 L765.25,510.05 L766.00,509.95 L766.75,509.85 L767.50,509.75 L768.25,509.66 L769.00,509.57 L769.75,509.49 L770.50,509.42 L770.58,509.41 M780.00,509.66 L780.75,509.79 L781.50,509.94 L782.25,510.10 L783.00,510.26 L783.75,510.44 L784.50,510.62 L785.25,510.80 L786.00,510.99 L786.75,511.19 L787.50,511.38 L788.25,511.57 L789.00,511.76 L789.75,511.94 L790.50,512.12 L791.25,512.29 L792.00,512.46 L792.75,512.61 L793.50,512.75 L794.25,512.88 L795.00,513.00 L795.52,513.07 M805.10,512.97 L805.75,512.91 L806.50,512.83 L807.25,512.74 L808.00,512.65 L808.75,512.57 L809.50,512.47 L810.25,512.38 L811.00,512.29 L811.75,512.20 L812.50,512.10 L813.25,512.02 L814.00,511.93 L814.75,511.85 L815.50,511.77 L816.25,511.70 L817.00,511.63 L817.75,511.57 L818.50,511.52 L819.25,511.47 L820.00,511.44 L820.75,511.42 L820.92,511.41 M830.50,512.35 L831.25,512.50 L832.00,512.65 L832.75,512.81 L833.50,512.98 L834.25,513.15 L835.00,513.32 L835.75,513.49 L836.50,513.67 L837.25,513.84 L838.00,514.01 L838.75,514.18 L839.50,514.34 L840.25,514.50 L841.00,514.65 L841.75,514.80 L842.50,514.94 L843.25,515.07 L844.00,515.19 L844.75,515.30 L845.50,515.40 L846.08,515.47 M855.50,515.43 L856.25,515.36 L857.00,515.28 L857.75,515.20 L858.50,515.11 L859.25,515.03 L860.00,514.93 L860.75,514.84 L861.50,514.75 L862.25,514.66 L863.00,514.57 L863.75,514.47 L864.50,514.39 L865.25,514.30 L866.00,514.22 L866.75,514.14 L867.50,514.07 L868.25,514.01 L869.00,513.95 L869.75,513.90 L870.50,513.86 L871.25,513.83 L871.32,513.83 M880.90,514.67 L881.50,514.79 L882.25,514.95 L883.00,515.11 L883.75,515.28 L884.50,515.45 L885.25,515.63 L886.00,515.81 L886.75,515.99 L887.50,516.17 L888.25,516.35 L889.00,516.53 L889.75,516.70 L890.50,516.88 L891.25,517.04 L892.00,517.20 L892.75,517.36 L893.50,517.50 L894.25,517.64 L895.00,517.77 L895.75,517.88 L896.45,517.98 M906.00,518.06 L906.75,517.99 L907.50,517.91 L908.25,517.83 L909.00,517.74 L909.75,517.65 L910.50,517.56 L911.25,517.46 L912.00,517.37 L912.75,517.27 L913.50,517.17 L914.25,517.07 L915.00,516.98 L915.75,516.89 L916.50,516.80 L917.25,516.72 L918.00,516.64 L918.75,516.57 L919.50,516.50 L920.25,516.44 L921.00,516.39 L921.75,516.35 L921.80,516.35 M931.30,516.85 L932.00,516.95 L932.75,517.05 L933.50,517.16 L934.25,517.28 L934.40,517.30" stroke="#008b00" stroke-width="3.4"/>
<path d="M93.00,609.00 L93.25,608.39 L93.50,607.78 L93.75,607.17 L94.00,606.55 L94.20,606.06 M97.83,596.84 L98.50,595.01 L99.25,592.70 L100.00,590.16 L100.75,587.36 L101.50,584.26 L102.10,581.53 M103.78,571.77 L104.00,570.33 L104.25,568.72 L104.26,568.63 M105.75,559.40 L106.00,557.89 L106.25,556.35 L106.50,554.81 L106.75,553.27 L107.00,551.72 L107.25,550.17 L107.50,548.62 L107.75,547.06 L108.00,545.50 L108.25,543.95 L108.29,543.70 M109.79,534.47 L110.00,533.15 L110.25,531.55 L110.28,531.33 M111.61,521.68 L111.75,520.52 L112.00,518.34 L112.25,516.16 L112.50,514.03 L112.75,511.99 L113.00,510.11 L113.25,508.43 L113.50,507.00 L113.72,505.92 M116.31,496.54 L116.50,495.87 L116.75,494.90 L117.00,493.86 L117.09,493.45 M118.75,485.89 L119.25,484.20 L120.00,481.97 L120.75,480.01 L121.50,478.38 L122.25,477.10 L123.00,475.90 L123.75,474.81 L124.50,473.97 L125.25,473.53 L126.00,473.56 L126.75,473.84 L126.84,473.89 M131.48,479.98 L131.50,480.02 L131.75,480.50 L132.00,480.99 L132.25,481.50 L132.50,482.01 L132.75,482.53 L132.89,482.83 M137.06,492.24 L137.75,493.80 L138.50,495.44 L139.25,497.00 L140.00,498.48 L140.75,499.86 L141.50,501.11 L142.25,502.22 L143.00,503.17 L143.75,503.94 L144.50,504.52 L145.25,504.88 L145.80,504.99 M152.75,497.97 L152.75,497.97 L153.00,497.51 L153.25,497.05 L153.50,496.57 L153.75,496.10 L154.00,495.61 L154.23,495.16 M158.57,486.25 L159.25,484.89 L160.00,483.45 L160.75,482.08 L161.50,480.79 L162.25,479.60 L163.00,478.53 L163.75,477.59 L164.50,476.80 L165.25,476.17 L166.00,475.72 L166.75,475.46 L167.50,475.41 L168.25,475.52 L168.75,475.67 M175.91,482.37 L176.00,482.48 L176.25,482.79 L176.50,483.11 L176.75,483.43 L177.00,483.74 L177.25,484.06 L177.50,484.37 L177.75,484.69 L177.89,484.86 M184.97,491.06 L185.50,491.17 L186.25,491.19 L187.00,491.06 L187.75,490.78 L188.50,490.37 L189.25,489.84 L190.00,489.20 L190.75,488.47 L191.50,487.65 L192.25,486.76 L193.00,485.82 L193.75,484.84 L194.50,483.83 L195.25,482.80 L196.00,481.76 L196.42,481.19 M202.91,474.29 L203.50,474.01 L204.25,473.78 L205.00,473.70 L205.75,473.75 L205.98,473.79 M213.65,478.77 L214.25,479.32 L215.00,480.01 L215.75,480.70 L216.50,481.37 L217.25,482.02 L218.00,482.64 L218.75,483.21 L219.50,483.74 L220.25,484.21 L221.00,484.62 L221.75,484.95 L222.50,485.19 L223.25,485.35 L224.00,485.40 L224.75,485.36 L225.50,485.23 L226.25,485.03 L227.00,484.76 L227.24,484.66 M234.78,479.36 L235.00,479.17 L235.25,478.96 L235.50,478.75 L235.75,478.54 L236.00,478.33 L236.25,478.13 L236.50,477.92 L236.75,477.71 L237.00,477.51 L237.23,477.33 M245.38,473.21 L246.00,473.21 L246.75,473.29 L247.50,473.45 L248.25,473.69 L249.00,473.99 L249.75,474.35 L250.50,474.76 L251.25,475.21 L252.00,475.70 L252.75,476.21 L253.50,476.74 L254.25,477.28 L255.00,477.82 L255.75,478.35 L256.50,478.87 L257.25,479.36 L258.00,479.82 L258.75,480.24 L259.26,480.50 M267.99,479.69 L268.50,479.36 L269.25,478.84 L270.00,478.29 L270.58,477.85 M278.30,473.04 L279.00,472.89 L279.75,472.81 L280.50,472.81 L281.25,472.88 L282.00,473.00 L282.75,473.17 L283.50,473.38 L284.25,473.63 L285.00,473.91 L285.75,474.23 L286.50,474.56 L287.25,474.92 L288.00,475.29 L288.75,475.67 L289.50,476.05 L290.25,476.43 L291.00,476.81 L291.75,477.18 L292.50,477.54 L293.13,477.82 M302.01,478.80 L302.75,478.55 L303.50,478.26 L304.25,477.93 L304.95,477.60 M313.44,473.60 L314.00,473.45 L314.75,473.31 L315.50,473.22 L316.25,473.20 L317.00,473.24 L317.75,473.34 L318.50,473.49 L319.25,473.68 L320.00,473.92 L320.75,474.19 L321.50,474.49 L322.25,474.82 L323.00,475.17 L323.75,475.53 L324.50,475.91 L325.25,476.30 L326.00,476.68 L326.75,477.07 L327.50,477.44 L328.25,477.80 L328.33,477.84 M337.39,479.36 L338.00,479.19 L338.75,478.92 L339.50,478.62 L340.25,478.28 L340.36,478.23 M348.84,473.91 L349.50,473.68 L350.25,473.47 L351.00,473.32 L351.75,473.23 L352.50,473.20 L353.25,473.24 L354.00,473.34 L354.75,473.49 L355.50,473.68 L356.25,473.92 L357.00,474.20 L357.75,474.50 L358.50,474.84 L359.25,475.20 L360.00,475.57 L360.75,475.95 L361.50,476.35 L362.25,476.74 L363.00,477.13 L363.74,477.50 M372.86,479.51 L373.50,479.37 L374.25,479.16 L375.00,478.91 L375.75,478.63 L375.89,478.57 M384.77,474.40 L385.50,474.15 L386.25,473.94 L387.00,473.77 L387.75,473.66 L388.50,473.61 L389.25,473.61 L390.00,473.67 L390.75,473.79 L391.50,473.94 L392.25,474.15 L393.00,474.38 L393.75,474.66 L394.50,474.95 L395.25,475.28 L396.00,475.62 L396.75,475.97 L397.50,476.33 L398.25,476.70 L399.00,477.06 L399.75,477.43 L399.82,477.46 M409.24,479.57 L409.75,479.48 L410.50,479.32 L411.25,479.12 L412.00,478.90 L412.32,478.79 M421.24,475.19 L421.75,475.02 L422.50,474.81 L423.25,474.62 L424.00,474.48 L424.75,474.37 L425.50,474.31 L426.25,474.30 L427.00,474.35 L427.75,474.46 L428.50,474.61 L429.25,474.81 L430.00,475.04 L430.75,475.32 L431.50,475.62 L432.25,475.94 L433.00,476.28 L433.75,476.64 L434.50,477.00 L435.25,477.37 L436.00,477.74 L436.33,477.90 M445.53,480.11 L446.25,480.01 L447.00,479.87 L447.75,479.70 L448.50,479.50 L448.64,479.46 M457.68,476.29 L458.25,476.13 L459.00,475.94 L459.75,475.78 L460.50,475.65 L461.25,475.56 L462.00,475.51 L462.75,475.50 L463.50,475.55 L464.25,475.64 L465.00,475.77 L465.75,475.95 L466.50,476.16 L467.25,476.40 L468.00,476.67 L468.75,476.96 L469.50,477.27 L470.25,477.59 L471.00,477.92 L471.75,478.25 L472.50,478.58 L472.91,478.77 M482.13,480.95 L482.75,480.88 L483.50,480.76 L484.25,480.61 L485.00,480.43 L485.25,480.36 M494.52,477.18 L495.25,476.99 L496.00,476.82 L496.75,476.68 L497.50,476.58 L498.25,476.52 L499.00,476.50 L499.75,476.53 L500.50,476.60 L501.25,476.72 L502.00,476.87 L502.75,477.05 L503.50,477.26 L504.25,477.50 L505.00,477.75 L505.75,478.03 L506.50,478.31 L507.25,478.61 L508.00,478.92 L508.75,479.22 L509.50,479.53 L509.83,479.66 M519.33,481.63 L520.00,481.55 L520.75,481.43 L521.50,481.27 L522.25,481.09 L522.45,481.03 M531.75,477.94 L532.25,477.81 L533.00,477.64 L533.75,477.50 L534.50,477.40 L535.25,477.33 L536.00,477.30 L536.75,477.32 L537.50,477.38 L538.25,477.49 L539.00,477.64 L539.75,477.82 L540.50,478.03 L541.25,478.27 L542.00,478.53 L542.75,478.81 L543.50,479.10 L544.25,479.41 L545.00,479.72 L545.75,480.03 L546.50,480.35 L547.03,480.57 M556.53,482.52 L557.25,482.44 L558.00,482.32 L558.75,482.18 L559.50,482.01 L559.65,481.97 M568.79,479.29 L569.50,479.13 L570.25,478.99 L571.00,478.87 L571.75,478.78 L572.50,478.72 L573.25,478.70 L574.00,478.72 L574.75,478.78 L575.50,478.89 L576.25,479.03 L577.00,479.20 L577.75,479.40 L578.50,479.63 L579.25,479.87 L580.00,480.14 L580.75,480.41 L581.50,480.70 L582.25,480.99 L583.00,481.29 L583.75,481.58 L584.16,481.74 M593.42,483.56 L594.00,483.52 L594.75,483.45 L595.50,483.36 L596.25,483.25 L596.58,483.20 M605.93,481.30 L606.50,481.20 L607.25,481.08 L608.00,480.97 L608.75,480.88 L609.50,480.80 L610.25,480.74 L611.00,480.71 L611.75,480.70 L612.50,480.73 L613.25,480.80 L614.00,480.91 L614.75,481.06 L615.50,481.23 L616.25,481.44 L617.00,481.67 L617.75,481.93 L618.50,482.20 L619.25,482.48 L620.00,482.77 L620.75,483.06 L621.39,483.31 M630.61,485.49 L631.25,485.46 L632.00,485.41 L632.75,485.33 L633.50,485.23 L633.78,485.19 M643.22,483.10 L643.75,482.99 L644.50,482.84 L645.25,482.70 L646.00,482.58 L646.75,482.48 L647.50,482.40 L648.25,482.34 L649.00,482.31 L649.75,482.30 L650.50,482.33 L651.25,482.41 L652.00,482.52 L652.75,482.67 L653.50,482.86 L654.25,483.06 L655.00,483.30 L655.75,483.55 L656.50,483.82 L657.25,484.10 L658.00,484.39 L658.70,484.66 M668.01,487.10 L668.75,487.08 L669.50,487.04 L670.25,486.97 L671.00,486.87 L671.18,486.85 M680.69,484.62 L681.25,484.49 L682.00,484.34 L682.75,484.19 L683.50,484.07 L684.25,483.97 L685.00,483.88 L685.75,483.83 L686.50,483.80 L687.25,483.81 L688.00,483.86 L688.75,483.95 L689.50,484.08 L690.25,484.25 L691.00,484.44 L691.75,484.67 L692.50,484.91 L693.25,485.17 L694.00,485.45 L694.75,485.74 L695.50,486.04 L696.13,486.29 M705.51,488.80 L706.25,488.79 L707.00,488.76 L707.75,488.72 L708.50,488.66 L708.69,488.65 M718.06,487.20 L718.75,487.08 L719.50,486.96 L720.25,486.84 L721.00,486.73 L721.75,486.64 L722.50,486.55 L723.25,486.47 L724.00,486.40 L724.75,486.35 L725.50,486.32 L726.25,486.30 L727.00,486.31 L727.75,486.35 L728.50,486.44 L729.25,486.57 L730.00,486.73 L730.75,486.93 L731.50,487.15 L732.25,487.39 L733.00,487.64 L733.69,487.89 M742.72,490.77 L743.25,490.84 L744.00,490.89 L744.75,490.90 L745.50,490.88 L745.89,490.87 M755.33,489.69 L756.00,489.57 L756.75,489.45 L757.50,489.33 L758.25,489.21 L759.00,489.10 L759.75,488.99 L760.50,488.89 L761.25,488.80 L762.00,488.72 L762.75,488.65 L763.50,488.59 L764.25,488.55 L765.00,488.52 L765.75,488.50 L766.50,488.51 L767.25,488.54 L768.00,488.60 L768.75,488.69 L769.50,488.81 L770.25,488.94 L771.00,489.09 L771.11,489.11 M780.26,491.72 L781.00,491.92 L781.75,492.12 L782.50,492.30 L783.25,492.46 L783.35,492.48 M793.04,492.67 L793.75,492.58 L794.50,492.48 L795.25,492.37 L796.00,492.26 L796.75,492.15 L797.50,492.03 L798.25,491.91 L799.00,491.79 L799.75,491.68 L800.50,491.56 L801.25,491.46 L802.00,491.35 L802.75,491.26 L803.50,491.17 L804.25,491.09 L805.00,491.03 L805.75,490.97 L806.50,490.93 L807.25,490.91 L808.00,490.90 L808.75,490.92 L808.82,490.92 M818.29,493.05 L819.00,493.28 L819.75,493.53 L820.50,493.78 L821.25,494.03 L821.31,494.05 M830.64,496.00 L831.25,496.00 L832.00,495.97 L832.75,495.90 L833.50,495.80 L834.25,495.67 L835.00,495.53 L835.75,495.36 L836.50,495.18 L837.25,494.98 L838.00,494.78 L838.75,494.58 L839.50,494.38 L840.25,494.19 L841.00,494.00 L841.75,493.83 L842.50,493.67 L843.25,493.54 L844.00,493.43 L844.75,493.35 L845.50,493.31 L846.25,493.30 M855.67,494.80 L856.25,494.96 L857.00,495.17 L857.75,495.38 L858.50,495.60 L858.73,495.67 M867.97,498.24 L868.50,498.36 L869.25,498.51 L870.00,498.64 L870.75,498.76 L871.50,498.87 L872.25,498.95 L873.00,499.02 L873.75,499.07 L874.50,499.09 L875.25,499.10 L876.00,499.08 L876.75,499.05 L877.50,499.01 L878.25,498.95 L879.00,498.89 L879.75,498.81 L880.50,498.72 L881.25,498.63 L882.00,498.53 L882.75,498.43 L883.50,498.32 L883.76,498.28 M893.31,497.40 L894.00,497.42 L894.75,497.45 L895.50,497.50 L896.25,497.57 L896.48,497.59 M905.81,499.41 L906.50,499.58 L907.25,499.77 L908.00,499.96 L908.75,500.15 L909.50,500.34 L910.25,500.53 L911.00,500.71 L911.75,500.89 L912.50,501.07 L913.25,501.23 L914.00,501.39 L914.75,501.55 L915.50,501.69 L916.25,501.82 L917.00,501.94 L917.75,502.05 L918.50,502.15 L919.25,502.23 L920.00,502.30 L920.75,502.35 L921.40,502.38 M930.77,501.07 L931.50,500.87 L932.25,500.65 L933.00,500.43 L933.75,500.20 L933.82,500.18" stroke="#000" stroke-width="3.4"/>
</g>
<path d="M92.90,609.0 v-16.5 M92.90,13.5 v16.5 M141.47,609.0 v-8.4 M141.47,13.5 v8.4 M190.03,609.0 v-8.4 M190.03,13.5 v8.4 M238.60,609.0 v-8.4 M238.60,13.5 v8.4 M287.16,609.0 v-8.4 M287.16,13.5 v8.4 M335.73,609.0 v-16.5 M335.73,13.5 v16.5 M384.29,609.0 v-8.4 M384.29,13.5 v8.4 M432.86,609.0 v-8.4 M432.86,13.5 v8.4 M481.43,609.0 v-8.4 M481.43,13.5 v8.4 M529.99,609.0 v-8.4 M529.99,13.5 v8.4 M578.56,609.0 v-16.5 M578.56,13.5 v16.5 M627.12,609.0 v-8.4 M627.12,13.5 v8.4 M675.69,609.0 v-8.4 M675.69,13.5 v8.4 M724.25,609.0 v-8.4 M724.25,13.5 v8.4 M772.82,609.0 v-8.4 M772.82,13.5 v8.4 M821.39,609.0 v-16.5 M821.39,13.5 v16.5 M869.95,609.0 v-8.4 M869.95,13.5 v8.4 M918.52,609.0 v-8.4 M918.52,13.5 v8.4 M92.9,609.00 h16.5 M942.8,609.00 h-16.5 M92.9,559.38 h8.4 M942.8,559.38 h-8.4 M92.9,509.75 h16.5 M942.8,509.75 h-16.5 M92.9,460.12 h8.4 M942.8,460.12 h-8.4 M92.9,410.50 h16.5 M942.8,410.50 h-16.5 M92.9,360.88 h8.4 M942.8,360.88 h-8.4 M92.9,311.25 h16.5 M942.8,311.25 h-16.5 M92.9,261.62 h8.4 M942.8,261.62 h-8.4 M92.9,212.00 h16.5 M942.8,212.00 h-16.5 M92.9,162.38 h8.4 M942.8,162.38 h-8.4 M92.9,112.75 h16.5 M942.8,112.75 h-16.5 M92.9,63.12 h8.4 M942.8,63.12 h-8.4 M92.9,13.50 h16.5 M942.8,13.50 h-16.5" stroke="#000" stroke-width="1.6" fill="none"/>
<rect x="92.9" y="13.5" width="849.9" height="595.5" fill="none" stroke="#000" stroke-width="1.6"/>
<g font-family="Liberation Sans, sans-serif" font-size="33" fill="#000">
<text transform="translate(93.40,639.8) scale(0.925,1)" text-anchor="middle">0</text>
<text transform="translate(339.23,639.8) scale(0.925,1)" text-anchor="middle">1</text>
<text transform="translate(579.06,639.8) scale(0.925,1)" text-anchor="middle">2</text>
<text transform="translate(821.89,639.8) scale(0.925,1)" text-anchor="middle">3</text>
<text transform="translate(85.3,620.20) scale(0.925,1)" text-anchor="end">0</text>
<text transform="translate(85.3,520.95) scale(0.925,1)" text-anchor="end">5</text>
<text transform="translate(85.3,421.70) scale(0.925,1)" text-anchor="end">10</text>
<text transform="translate(85.3,322.45) scale(0.925,1)" text-anchor="end">15</text>
<text transform="translate(85.3,223.20) scale(0.925,1)" text-anchor="end">20</text>
<text transform="translate(85.3,123.95) scale(0.925,1)" text-anchor="end">25</text>
<text transform="translate(85.3,24.70) scale(0.925,1)" text-anchor="end">30</text>
</g>
<g font-family="Liberation Sans, sans-serif" font-size="41" fill="#000">
<text x="454.6" y="694.9"><tspan font-family="Liberation Serif, serif" font-style="italic" font-size="41.5">k</tspan><tspan dx="11.5">(fm</tspan><tspan font-size="25" dy="-25.4" dx="1.5">-1</tspan><tspan dy="25.4" dx="3.5">)</tspan></text>
<text transform="translate(32.9,345.5) rotate(-90)" x="0" y="0">ρ(k)</text>
</g>
<rect x="632.0" y="52.9" width="301.79999999999995" height="233.6" fill="#fff" stroke="#000" stroke-width="1.4"/>
<g fill="none" stroke-width="3.3">
<path d="M641.4,88.2 H701" stroke="#0000ff" stroke-dasharray="3.18 9.540000000000001"/>
<path d="M641.4,151 H701" stroke="#ff0000"/>
<path d="M641.4,213.4 H701" stroke="#008b00" stroke-dasharray="15.9 9.540000000000001"/>
<path d="M641.4,263 H701" stroke="#000" stroke-dasharray="3.18 9.540000000000001 15.9 9.540000000000001"/>
</g>
<g font-family="Liberation Serif, serif" font-size="42" fill="#000">
<path d="M0.54,-13.76 C0.69,-18.20 2.69,-21.68 5.43,-21.68 C8.83,-21.68 10.90,-14.50 12.09,-7.47 L18.30,-20.86 L20.60,-21.01 L13.12,-3.77 C13.57,-0.44 13.57,4.74 12.83,7.33 C12.31,8.59 11.35,9.18 10.46,9.18 C9.13,9.18 7.87,8.07 7.87,6.59 C7.87,4.37 9.35,0.30 10.31,-4.14 C9.87,-8.58 8.61,-14.50 6.76,-16.87 C5.87,-18.20 4.91,-18.94 3.95,-18.94 C2.69,-18.94 1.88,-16.72 1.65,-13.76 Z" transform="translate(717.3,106.7)"/><text x="717.3" y="106.7" fill="none">γ</text><text x="734.9" y="106.7"><tspan dy="2.4" stroke="#000" stroke-width="0.7">=</tspan><tspan dy="-2.4" dx="-0.7">1 fm</tspan><tspan font-size="28" dy="-25.6" dx="1.6">1/2</tspan></text>
<path d="M0.54,-13.76 C0.69,-18.20 2.69,-21.68 5.43,-21.68 C8.83,-21.68 10.90,-14.50 12.09,-7.47 L18.30,-20.86 L20.60,-21.01 L13.12,-3.77 C13.57,-0.44 13.57,4.74 12.83,7.33 C12.31,8.59 11.35,9.18 10.46,9.18 C9.13,9.18 7.87,8.07 7.87,6.59 C7.87,4.37 9.35,0.30 10.31,-4.14 C9.87,-8.58 8.61,-14.50 6.76,-16.87 C5.87,-18.20 4.91,-18.94 3.95,-18.94 C2.69,-18.94 1.88,-16.72 1.65,-13.76 Z" transform="translate(717.3,169.6)"/><text x="717.3" y="169.6" fill="none">γ</text><text x="734.9" y="169.6"><tspan dy="2.4" stroke="#000" stroke-width="0.7">=</tspan><tspan dy="-2.4" dx="-0.7">2.48 fm</tspan><tspan font-size="28" dy="-25.6" dx="1.6">1/2</tspan></text>
<path d="M0.54,-13.76 C0.69,-18.20 2.69,-21.68 5.43,-21.68 C8.83,-21.68 10.90,-14.50 12.09,-7.47 L18.30,-20.86 L20.60,-21.01 L13.12,-3.77 C13.57,-0.44 13.57,4.74 12.83,7.33 C12.31,8.59 11.35,9.18 10.46,9.18 C9.13,9.18 7.87,8.07 7.87,6.59 C7.87,4.37 9.35,0.30 10.31,-4.14 C9.87,-8.58 8.61,-14.50 6.76,-16.87 C5.87,-18.20 4.91,-18.94 3.95,-18.94 C2.69,-18.94 1.88,-16.72 1.65,-13.76 Z" transform="translate(717.3,232.2)"/><text x="717.3" y="232.2" fill="none">γ</text><text x="734.9" y="232.2"><tspan dy="2.4" stroke="#000" stroke-width="0.7">=</tspan><tspan dy="-2.4" dx="-0.7">5 fm</tspan><tspan font-size="28" dy="-25.6" dx="1.6">1/2</tspan></text>
<text x="717.5" y="277.0">HO</text>
</g>
</svg></div></body></html>
